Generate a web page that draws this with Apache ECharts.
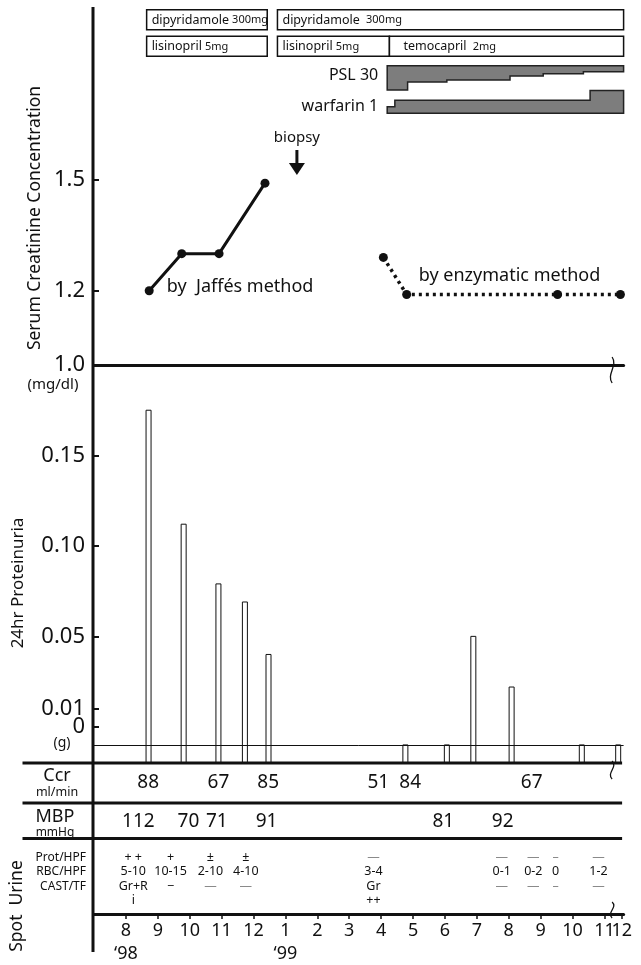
<!DOCTYPE html>
<html><head><meta charset="utf-8">
<script src="https://cdn.jsdelivr.net/npm/echarts@6/dist/echarts.min.js"></script>
<style>html,body{margin:0;padding:0;background:#fff}#c{width:641px;height:965px}</style>
</head><body><div id="c"></div>
<script>
// ================= DATA =================
// x values are months: 8..12 = Aug..Dec '98, 13..24 = Jan..Dec '99
const monthTicks  = [8,9,10,11,12,13,14,15,16,17,18,19,20,21,22,23,23.54];
const monthLabels = ['8\n\u201898','9','10','11','12','1\n\u201899','2','3','4','5','6','7','8','9','10','11','12'];

// serum creatinine (mg/dl)
const jaffeX = [8.73, 9.75, 10.92, 12.36];
const jaffeY = [1.20, 1.30, 1.30, 1.49];
const enzX   = [16.07, 16.80, 21.53, 23.50];
const enzY   = [1.29, 1.19, 1.19, 1.19];
const creTicks = [1.0, 1.2, 1.5];
const biopsyX = 13.36, biopsyTip = 1.512;
const jaffeText = 'by  Jaff\u00e9s method', jaffeTextPos = [9.28, 1.211];
const enzText = 'by enzymatic method', enzTextPos = [17.18, 1.24];

// 24hr proteinuria (g); 'tr' = trace (below the 0 line)
const protX   = [8.71, 9.81, 10.90, 11.73, 12.47, 16.76, 18.06, 18.89, 20.09, 22.29, 23.43];
const protVal = [0.175, 0.112, 0.079, 0.069, 0.040, 'tr', 'tr', 0.050, 0.022, 'tr', 'tr'];
const protTicks = [0, 0.01, 0.05, 0.10, 0.15];
const PROT_MIN = -0.02, PROT_MAX = 0.2, TRACE = -0.01;

// drugs
const drugRows  = ['dipyridamole', 'ace', 'PSL', 'warfarin'];
const boxName   = ['dipyridamole', 'dipyridamole', 'lisinopril', 'lisinopril', 'temocapril'];
const boxDose   = ['300mg', '300mg', '5mg', '5mg', '2mg'];
const boxRow    = [0, 0, 1, 1, 1];
const boxStart  = [8.65, 12.75, 8.65, 12.75, 16.26];
const boxEnd    = [12.43, 23.6, 12.43, 16.26, 23.6];
const pslLabel = 'PSL 30';
const pslStart = [16.19, 16.83, 18.06, 20.04, 21.08, 22.34];
const pslDose  = [30, 20, 17.5, 12.5, 10, 7.5];
const warLabel = 'warfarin 1';
const warStart = [16.19, 16.43, 22.55];
const warDose  = [0.5, 1, 1.75];
const drugEnd = 23.6;

// Ccr (ml/min) and MBP (mmHg)
const ccrX = [8.70, 10.90, 12.46, 15.91, 16.91, 20.72];
const ccrVal = [88, 67, 85, 51, 84, 67];
const mbpX = [8.39, 9.96, 10.85, 12.41, 17.95, 19.81];
const mbpVal = [112, 70, 71, 91, 81, 92];

// spot urine
const urineRows  = ['Prot/HPF', 'RBC/HPF', 'CAST/TF', ''];
const urineX     = [8.23, 9.40, 10.65, 11.76, 15.76, 19.78, 20.77, 21.47, 22.81];
const urineProt  = ['+ +', '+', '\u00b1', '\u00b1', '\u2014', '\u2014', '\u2014', '\u2013', '\u2014'];
const urineRBC   = ['5-10', '10-15', '2-10', '4-10', '3-4', '0-1', '0-2', '0', '1-2'];
const urineCast  = ['Gr+R', '\u2212', '\u2014', '\u2014', 'Gr', '\u2014', '\u2014', '\u2013', '\u2014'];
const urineExtra = ['i', '', '', '', '++', '', '', '', ''];
const breakX = 23.24;

// ================= LAYOUT / STYLE =================
const FONT = '"Noto Sans", "DejaVu Sans", sans-serif';
const INK = '#111';
const GRID_L = 94, GRID_R = 17.4, X_MIN = 7, X_MAX = 23.6;
const G = {
  drug:  {top: 8,   height: 106},
  cre:   {top: 8,   height: 357},
  prot:  {top: 365, height: 398},
  ccr:   {top: 763, height: 40},
  mbp:   {top: 803, height: 35.5},
  urine: {top: 850, height: 59}
};
const AXIS_Y = 915;
const PSL_PX = 0.81, WAR_PX = 13;

const chart = echarts.init(document.getElementById('c'), null, {renderer: 'canvas'});

function grid(g) { return {left: GRID_L, right: GRID_R, top: g.top, height: g.height, containLabel: false}; }
function xa(gi, extra) {
  return Object.assign({type: 'value', gridIndex: gi, min: X_MIN, max: X_MAX,
    axisLine: {show: false}, axisTick: {show: false}, axisLabel: {show: false}, splitLine: {show: false}}, extra || {});
}
function txt(x, y, text, size, opts) {
  return Object.assign({type: 'text', x: x, y: y, style: {text: text, fill: INK, fontSize: size, fontFamily: FONT,
    align: 'center', verticalAlign: 'middle', textAlign: 'center', textVerticalAlign: 'middle'}}, opts || {});
}
function styleTxt(x, y, text, size, align, extra) {
  return {type: 'text', x: x, y: y, style: Object.assign({text: text, fill: INK, fontSize: size, fontFamily: FONT,
    align: align, verticalAlign: 'middle', textAlign: align, textVerticalAlign: 'middle'}, extra || {})};
}
const monthFmt = v => monthLabels[monthTicks.indexOf(v)];
const monthLabelStyle = {show: true, hideOverlap: false, margin: 5, fontSize: 18, lineHeight: 23, color: INK, fontFamily: FONT, formatter: monthFmt};
const protFmt = v => v === 0 ? '0' : v.toFixed(2);
const protLabelStyle = {hideOverlap: false, formatter: protFmt, fontSize: 22, margin: 9, color: INK, fontFamily: FONT};
const protTickStyle = {show: true, inside: true, length: 5, lineStyle: {color: INK, width: 2}};
const xOffset = AXIS_Y - (G.urine.top + G.urine.height);

// urine cells
const urineItems = [], urineTexts = [];
[urineProt, urineRBC, urineCast, urineExtra].forEach((arr, r) => {
  arr.forEach((t, i) => { if (t) { urineItems.push([urineX[i], r]); urineTexts.push(t); } });
});

const option = {
  animation: false,
  backgroundColor: '#fff',
  textStyle: {fontFamily: FONT, color: INK},
  grid: [grid(G.drug), grid(G.cre), grid(G.prot), grid(G.ccr), grid(G.mbp), grid(G.urine)],
  xAxis: [
    xa(0),
    xa(1, {axisLine: {show: true, onZero: false, lineStyle: {color: INK, width: 3}}}),
    xa(2),
    xa(3),
    xa(4),
    xa(5, {position: 'bottom', offset: xOffset,
      axisLine: {show: true, onZero: false, lineStyle: {color: INK, width: 3}},
      axisTick: {show: true, inside: false, length: 5, customValues: monthTicks, lineStyle: {color: INK, width: 1.5}},
      axisLabel: Object.assign({customValues: monthTicks.slice(0, -1)}, monthLabelStyle)}),
    // last month label sits against the axis break; separate axis so it is not dropped
    xa(5, {position: 'bottom', offset: xOffset,
      axisLabel: Object.assign({customValues: monthTicks.slice(-1)}, monthLabelStyle)})
  ],
  yAxis: [
    {type: 'category', gridIndex: 0, data: drugRows, inverse: true, show: false},
    {type: 'value', gridIndex: 1, min: 1.0, max: 1.962, splitLine: {show: false}, axisLine: {show: false},
      axisTick: {show: true, inside: true, length: 5, customValues: creTicks, lineStyle: {color: INK, width: 2}},
      axisLabel: {customValues: creTicks, hideOverlap: false,
        formatter: v => v.toFixed(1), fontSize: 22, margin: 9, color: INK, fontFamily: FONT}},
    {type: 'value', gridIndex: 2, min: PROT_MIN, max: PROT_MAX, splitLine: {show: false}, axisLine: {show: false},
      axisTick: Object.assign({customValues: protTicks.slice(1)}, protTickStyle),
      axisLabel: Object.assign({customValues: protTicks.slice(1)}, protLabelStyle)},
    {type: 'category', gridIndex: 3, data: ['Ccr'], axisLine: {show: false}, axisTick: {show: false},
      axisLabel: {align: 'center', margin: GRID_L - 57, color: INK, fontFamily: FONT, interval: 0,
        formatter: () => '{a|Ccr}\n{b|ml/min}',
        rich: {a: {fontSize: 18, lineHeight: 18, fontFamily: FONT, color: INK}, b: {fontSize: 12.5, lineHeight: 14, fontFamily: FONT, color: INK}}}},
    {type: 'category', gridIndex: 4, data: ['MBP'], axisLine: {show: false}, axisTick: {show: false},
      axisLabel: {align: 'center', margin: GRID_L - 55, color: INK, fontFamily: FONT, padding: [6, 0, 0, 0], interval: 0,
        formatter: () => '{a|MBP}\n{b|mmHg}',
        rich: {a: {fontSize: 18, lineHeight: 18, fontFamily: FONT, color: INK}, b: {fontSize: 12, lineHeight: 13, fontFamily: FONT, color: INK}}}},
    {type: 'category', gridIndex: 5, data: urineRows, inverse: true, axisLine: {show: false}, axisTick: {show: false},
      axisLabel: {fontSize: 12, margin: 8, color: INK, fontFamily: FONT, interval: 0, hideOverlap: false}},
    // the "0" label of proteinuria sits very close to "0.01"; separate axis so both show
    {type: 'value', gridIndex: 2, position: 'left', min: PROT_MIN, max: PROT_MAX, splitLine: {show: false}, axisLine: {show: false},
      axisTick: Object.assign({customValues: protTicks.slice(0, 1)}, protTickStyle),
      axisLabel: Object.assign({customValues: protTicks.slice(0, 1)}, protLabelStyle)}
  ],
  series: [
    // drugs
    {type: 'custom', xAxisIndex: 0, yAxisIndex: 0, silent: true,
      data: boxName.map((_, i) => [i]).concat([[boxName.length], [boxName.length + 1]]),
      renderItem: function (params, api) {
        const i = params.dataIndex;
        if (i < boxName.length) {
          const c0 = api.coord([boxStart[i], boxRow[i]]);
          const c1 = api.coord([boxEnd[i], boxRow[i]]);
          const top = c0[1] - 11.5;
          const gap = (boxEnd[i] - boxStart[i]) > 5 ? '  ' : ' ';
          return {type: 'group', children: [
            {type: 'rect', shape: {x: c0[0], y: top, width: c1[0] - c0[0], height: 20},
              style: {fill: '#fff', stroke: INK, lineWidth: 1.5}},
            styleTxt(c0[0] + (i === 4 ? 14 : 5), top + 10.5, '{n|' + boxName[i] + '}' + gap + '{d|' + boxDose[i] + '}', 12, 'left',
              {rich: {n: {fontSize: 12.5, fontFamily: FONT, fill: INK}, d: {fontSize: 11, fontFamily: FONT, fill: INK}}})
          ]};
        }
        const isPsl = i === boxName.length;
        const row = isPsl ? 2 : 3;
        const starts = isPsl ? pslStart : warStart;
        const doses = isPsl ? pslDose : warDose;
        const k = isPsl ? PSL_PX : WAR_PX;
        const center = api.coord([X_MIN, row])[1];
        const xs = starts.map(s => api.coord([s, row])[0]);
        const xEnd = api.coord([drugEnd, row])[0];
        const pts = [];
        let labelY;
        if (isPsl) {
          const yTop = center - 8.5;
          pts.push([xs[0], yTop], [xEnd, yTop]);
          for (let j = starts.length - 1; j >= 0; j--) {
            const xb = j === starts.length - 1 ? xEnd : xs[j + 1];
            const yb = yTop + doses[j] * k;
            pts.push([xb, yb], [xs[j], yb]);
          }
          labelY = yTop + 9.5;
        } else {
          const yBot = center + 12.5;
          pts.push([xs[0], yBot], [xEnd, yBot]);
          for (let j = starts.length - 1; j >= 0; j--) {
            const xb = j === starts.length - 1 ? xEnd : xs[j + 1];
            const yb = yBot - doses[j] * k;
            pts.push([xb, yb], [xs[j], yb]);
          }
          labelY = yBot - 6.5;
        }
        return {type: 'group', children: [
          {type: 'polygon', shape: {points: pts}, style: {fill: '#7d7d7d', stroke: '#222', lineWidth: 1.5}},
          styleTxt(xs[0] - 9, labelY, isPsl ? pslLabel : warLabel, 16, 'right')
        ]};
      }},
    // creatinine: Jaffe
    {type: 'line', xAxisIndex: 1, yAxisIndex: 1, data: jaffeX.map((x, i) => [x, jaffeY[i]]),
      symbol: 'circle', symbolSize: 9, lineStyle: {color: INK, width: 3}, itemStyle: {color: INK}},
    // creatinine: enzymatic
    {type: 'line', xAxisIndex: 1, yAxisIndex: 1, data: enzX.map((x, i) => [x, enzY[i]]),
      symbol: 'circle', symbolSize: 9, lineStyle: {color: INK, width: 3.5, type: [3, 4], cap: 'butt'}, itemStyle: {color: INK}},
    // creatinine annotations
    {type: 'custom', xAxisIndex: 1, yAxisIndex: 1, silent: true, data: [[0]],
      renderItem: function (params, api) {
        const j = api.coord(jaffeTextPos), e = api.coord(enzTextPos);
        const t = api.coord([biopsyX, biopsyTip]);
        return {type: 'group', children: [
          styleTxt(j[0], j[1], jaffeText, 18, 'left'),
          styleTxt(e[0], e[1], enzText, 18, 'left'),
          {type: 'line', shape: {x1: t[0], y1: t[1] - 25, x2: t[0], y2: t[1] - 10}, style: {stroke: INK, lineWidth: 3}},
          {type: 'polygon', shape: {points: [[t[0] - 8, t[1] - 12], [t[0] + 8, t[1] - 12], [t[0], t[1]]]}, style: {fill: INK}},
          styleTxt(t[0], t[1] - 37, 'biopsy', 15, 'center')
        ]};
      }},
    // proteinuria bars
    {type: 'custom', xAxisIndex: 2, yAxisIndex: 2, silent: true, data: protX.map(x => [x]),
      renderItem: function (params, api) {
        const i = params.dataIndex;
        const v = protVal[i] === 'tr' ? TRACE : protVal[i];
        const top = api.coord([protX[i], v]);
        const base = api.coord([protX[i], PROT_MIN]);
        return {type: 'rect', shape: {x: top[0] - 2.5, y: top[1], width: 5, height: base[1] - top[1]},
          style: {fill: '#fff', stroke: INK, lineWidth: 1}};
      },
      markLine: {silent: true, symbol: 'none', label: {show: false}, lineStyle: {color: INK, width: 1, type: 'solid'},
        data: [{yAxis: TRACE}]}},
    // Ccr values
    {type: 'custom', xAxisIndex: 3, yAxisIndex: 3, silent: true, data: ccrX.map(x => [x, 0]),
      renderItem: function (params, api) {
        const i = params.dataIndex, p = api.coord([ccrX[i], 0]);
        return styleTxt(p[0], p[1], String(ccrVal[i]), 19, 'center');
      }},
    // MBP values
    {type: 'custom', xAxisIndex: 4, yAxisIndex: 4, silent: true, data: mbpX.map(x => [x, 0]),
      renderItem: function (params, api) {
        const i = params.dataIndex, p = api.coord([mbpX[i], 0]);
        return styleTxt(p[0], p[1] + 1, String(mbpVal[i]), 19, 'center');
      }},
    // spot urine cells
    {type: 'custom', xAxisIndex: 5, yAxisIndex: 5, silent: true, data: urineItems,
      renderItem: function (params, api) {
        const i = params.dataIndex, p = api.coord(urineItems[i]);
        const t = urineTexts[i];
        const faint = t === '\u2014' || t === '\u2013';
        return styleTxt(p[0], p[1], t, 12.5, 'center', {fill: faint ? '#8a8a8a' : INK});
      }}
  ]
};
chart.setOption(option);

// ----- frame decorations (layout) -----
const rightX = chart.convertToPixel({xAxisIndex: 1}, X_MAX);
const bx = chart.convertToPixel({xAxisIndex: 1}, breakX);
function brk(y, h) {
  return {type: 'bezierCurve', shape: {x1: bx, y1: y - h, cpx1: bx + 6, cpy1: y - h / 3, cpx2: bx - 6, cpy2: y + h / 3, x2: bx, y2: y + h},
    style: {stroke: INK, lineWidth: 1.3, fill: null}, z: 10};
}
const sepYs = [G.prot.top + G.prot.height, G.ccr.top + G.ccr.height, G.mbp.top + G.mbp.height];
const graphics = [
  {type: 'line', shape: {x1: GRID_L - 1, y1: 7, x2: GRID_L - 1, y2: 952}, style: {stroke: INK, lineWidth: 3}, z: 5}
];
sepYs.forEach(y => graphics.push({type: 'line', shape: {x1: 22.5, y1: y, x2: rightX - 1.5, y2: y}, style: {stroke: INK, lineWidth: 3}, z: 5}));
graphics.push(
  txt(35, 218, 'Serum Creatinine Concentration', 17.5, {rotation: Math.PI / 2}),
  txt(18, 583, '24hr Proteinuria', 17, {rotation: Math.PI / 2}),
  txt(17, 906, 'Spot  Urine', 17.5, {rotation: Math.PI / 2}),
  txt(53, 385, '(mg/dl)', 15),
  txt(62, 743, '(g)', 14),
  brk(G.prot.top + 5, 13),
  brk(sepYs[0] + 7, 9),
  brk(AXIS_Y - 5, 8)
);
chart.setOption({graphic: {elements: graphics}});
</script>
</body></html>
